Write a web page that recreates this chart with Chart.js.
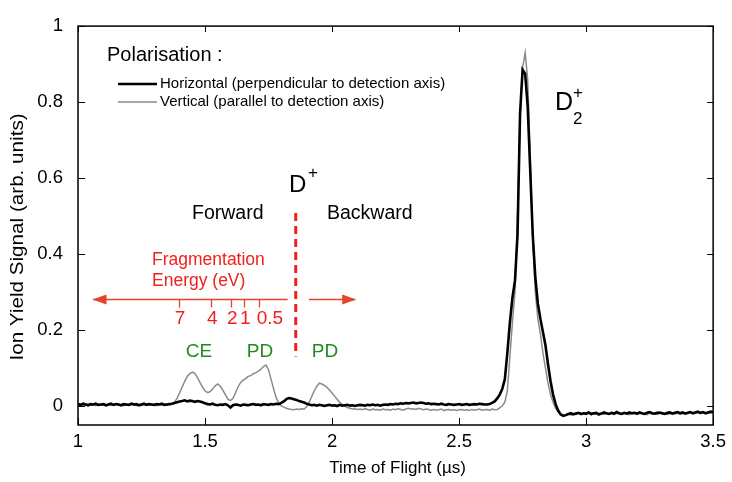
<!DOCTYPE html>
<html>
<head>
<meta charset="utf-8">
<script src="https://cdn.jsdelivr.net/npm/chart.js@4.4.0/dist/chart.umd.min.js"></script>
<style>
html, body { margin: 0; padding: 0; background: #fff; }
</style>
</head>
<body>
<canvas id="tofChart" width="732" height="482"></canvas>
<script>
// Time of flight samples, 1.00 .. 3.50 us in 0.01 steps
const tof = [];
for (let i = 0; i <= 250; i++) tof.push(+(1 + i * 0.01).toFixed(2));

// Horizontal polarisation (one row per 0.1 us)
const horizontal = [
  0.005,0.003,0.006,0.004,0.002,0.005,0.004,0.006,0.003,0.004,
  0.005,0.002,0.004,0.006,0.003,0.005,0.004,0.002,0.005,0.004,
  0.003,0.006,0.004,0.005,0.002,0.004,0.006,0.003,0.005,0.004,
  0.003,0.005,0.004,0.006,0.003,0.004,0.005,0.006,0.008,0.010,
  0.012,0.013,0.015,0.012,0.014,0.013,0.011,0.013,0.012,0.010,
  0.007,0.005,0.004,0.006,0.003,0.002,0.004,0.003,0.005,0.002,
  -0.004,0.002,0.004,0.003,0.001,0.004,0.003,0.002,0.004,0.005,
  0.003,0.004,0.002,0.005,0.004,0.003,0.005,0.004,0.006,0.005,
  0.008,0.012,0.018,0.021,0.020,0.018,0.016,0.013,0.011,0.009,
  0.006,0.004,0.002,0.003,0.001,0.003,0.002,0.000,0.002,0.003,
  0.001,0.002,0.000,0.003,0.001,0.002,0.003,0.001,0.002,0.000,
  0.002,0.003,0.002,0.001,0.003,0.002,0.004,0.002,0.003,0.001,
  0.003,0.004,0.003,0.005,0.004,0.006,0.005,0.007,0.006,0.008,
  0.007,0.008,0.009,0.007,0.008,0.009,0.008,0.006,0.007,0.005,
  0.006,0.005,0.004,0.006,0.004,0.003,0.005,0.004,0.003,0.004,
  0.005,0.003,0.004,0.005,0.003,0.004,0.005,0.004,0.006,0.005,
  0.004,0.004,0.005,0.008,0.012,0.020,0.030,0.045,0.070,0.140,
  0.220,0.285,0.330,0.450,0.770,0.885,0.875,0.790,0.620,0.450,
  0.340,0.270,0.230,0.195,0.160,0.110,0.065,0.030,0.005,-0.012,
  -0.022,-0.026,-0.024,-0.021,-0.019,-0.022,-0.020,-0.018,-0.021,-0.019,
  -0.020,-0.017,-0.021,-0.019,-0.018,-0.022,-0.020,-0.017,-0.019,-0.021,
  -0.018,-0.020,-0.016,-0.019,-0.021,-0.018,-0.020,-0.017,-0.019,-0.018,
  -0.020,-0.017,-0.019,-0.021,-0.018,-0.016,-0.019,-0.020,-0.018,-0.017,
  -0.019,-0.021,-0.018,-0.017,-0.020,-0.018,-0.016,-0.019,-0.017,-0.020,
  -0.018,-0.016,-0.019,-0.017,-0.015,-0.018,-0.016,-0.019,-0.017,-0.015,
  -0.016
];

// Vertical polarisation
const vertical = [
  0.002,0.004,0.001,0.003,0.005,0.002,0.003,0.001,0.004,0.002,
  0.003,0.001,0.004,0.002,0.003,0.005,0.002,0.004,0.001,0.003,
  0.002,0.004,0.003,0.001,0.004,0.002,0.003,0.005,0.002,0.004,
  0.003,0.001,0.004,0.002,0.005,0.003,0.004,0.006,0.010,0.020,
  0.035,0.050,0.065,0.078,0.085,0.089,0.086,0.075,0.062,0.050,
  0.040,0.035,0.038,0.045,0.053,0.058,0.052,0.042,0.030,0.018,
  0.014,0.020,0.035,0.050,0.062,0.068,0.072,0.078,0.080,0.085,
  0.088,0.092,0.097,0.104,0.108,0.095,0.070,0.045,0.022,0.008,
  0.000,-0.003,-0.006,-0.008,-0.009,-0.010,-0.008,-0.009,-0.007,-0.008,
  -0.002,0.010,0.025,0.040,0.052,0.060,0.058,0.054,0.049,0.042,
  0.034,0.026,0.018,0.010,0.004,0.000,-0.004,-0.006,-0.008,-0.007,
  -0.009,-0.008,-0.010,-0.007,-0.009,-0.011,-0.008,-0.010,-0.009,-0.011,
  -0.008,-0.010,-0.009,-0.011,-0.008,-0.010,-0.007,-0.009,-0.011,-0.008,
  -0.006,-0.008,-0.007,-0.009,-0.006,-0.008,-0.010,-0.008,-0.009,-0.011,
  -0.009,-0.011,-0.010,-0.008,-0.012,-0.010,-0.009,-0.011,-0.010,-0.012,
  -0.010,-0.009,-0.011,-0.010,-0.012,-0.009,-0.011,-0.010,-0.008,-0.011,
  -0.010,-0.009,-0.011,-0.008,-0.010,-0.009,-0.005,0.000,0.010,0.040,
  0.130,0.220,0.300,0.500,0.760,0.890,0.930,0.860,0.660,0.440,
  0.300,0.230,0.190,0.140,0.100,0.060,0.030,0.010,-0.006,-0.016,
  -0.024,-0.026,-0.023,-0.021,-0.024,-0.020,-0.022,-0.019,-0.023,-0.021,
  -0.022,-0.019,-0.023,-0.020,-0.021,-0.024,-0.020,-0.022,-0.019,-0.021,
  -0.020,-0.023,-0.019,-0.021,-0.022,-0.019,-0.021,-0.023,-0.020,-0.019,
  -0.022,-0.020,-0.018,-0.021,-0.023,-0.019,-0.021,-0.020,-0.022,-0.019,
  -0.021,-0.019,-0.022,-0.020,-0.018,-0.021,-0.019,-0.022,-0.020,-0.018,
  -0.020,-0.018,-0.021,-0.019,-0.017,-0.020,-0.018,-0.021,-0.019,-0.017,
  -0.018
];

const xTicks = [1, 1.5, 2, 2.5, 3, 3.5];
const yTicks = [0, 0.2, 0.4, 0.6, 0.8, 1];

// Fragmentation energy scale drawn on the arrow (eV and their flight times)
const energyLabels = ['7', '4', '2', '1', '0.5'];
const energyTof = [1.398, 1.525, 1.603, 1.655, 1.711];

const FONT = "'Liberation Sans', Arial, sans-serif";
const RED = '#f0201c';
const ARROW = '#e4442a';
const GREEN = '#1f8c1f';

const toPoints = ys => ys.map((y, i) => ({ x: tof[i], y: y }));

const framePlugin = {
  id: 'frame',
  afterDraw(chart) {
    const { ctx, chartArea: a, scales: { x, y } } = chart;
    const px = v => x.getPixelForValue(v);
    const py = v => y.getPixelForValue(v);
    ctx.save();

    // box and inward ticks on all sides
    ctx.strokeStyle = '#000';
    ctx.lineWidth = 1.5;
    ctx.strokeRect(a.left, a.top, a.right - a.left, a.bottom - a.top);
    ctx.lineWidth = 1;
    ctx.beginPath();
    xTicks.forEach(v => {
      const p = Math.round(px(v)) + 0.5;
      ctx.moveTo(p, a.bottom); ctx.lineTo(p, a.bottom - 7);
      ctx.moveTo(p, a.top); ctx.lineTo(p, a.top + 6);
    });
    yTicks.forEach(v => {
      const p = Math.round(py(v)) + 0.5;
      ctx.moveTo(a.left, p); ctx.lineTo(a.left + 7, p);
      ctx.moveTo(a.right, p); ctx.lineTo(a.right - 6, p);
    });
    ctx.stroke();

    // axis titles
    ctx.fillStyle = '#000';
    ctx.font = '17px ' + FONT;
    ctx.textAlign = 'center';
    ctx.textBaseline = 'middle';
    ctx.fillText('Time of Flight (\u00b5s)', (a.left + a.right) / 2 + 2, 468);
    ctx.save();
    ctx.translate(18, 237);
    ctx.rotate(-Math.PI / 2);
    ctx.scale(1.18, 1);
    ctx.font = '17.5px ' + FONT;
    ctx.fillText('Ion Yield Signal (arb. units)', 0, 0);
    ctx.restore();

    // legend
    ctx.textAlign = 'left';
    ctx.font = '20px ' + FONT;
    ctx.fillText('Polarisation :', 107, 55);
    ctx.font = '15px ' + FONT;
    chart.data.datasets.forEach((ds, i) => {
      const ly = 84 + i * 18;
      ctx.strokeStyle = ds.borderColor;
      ctx.lineWidth = ds.borderWidth;
      ctx.beginPath();
      ctx.moveTo(118, ly); ctx.lineTo(157, ly);
      ctx.stroke();
      ctx.fillText(ds.label, 160, ly);
    });

    // D+ marker and direction labels
    ctx.font = '24px ' + FONT;
    ctx.textBaseline = 'alphabetic';
    ctx.fillText('D', 289, 192);
    ctx.font = '17px ' + FONT;
    ctx.fillText('+', 308, 178);
    ctx.font = '19.5px ' + FONT;
    ctx.fillText('Forward', 192, 219);
    ctx.fillText('Backward', 327, 219);

    // D2+ peak label
    ctx.font = '25px ' + FONT;
    ctx.fillText('D', 555, 110);
    ctx.font = '17px ' + FONT;
    ctx.fillText('2', 573, 124);
    ctx.fillText('+', 573, 98);

    // dashed line at the zero-energy D+ flight time
    ctx.strokeStyle = RED;
    ctx.lineWidth = 3;
    ctx.setLineDash([8, 5]);
    ctx.beginPath();
    ctx.moveTo(px(1.857), py(0.508));
    ctx.lineTo(px(1.857), py(0.13));
    ctx.stroke();
    ctx.setLineDash([]);

    // energy arrows
    const ay = Math.round(py(0.281)) + 0.5;
    ctx.strokeStyle = ARROW;
    ctx.fillStyle = ARROW;
    ctx.lineWidth = 1.3;
    ctx.beginPath();
    ctx.moveTo(px(1.06), ay); ctx.lineTo(px(1.825), ay);
    ctx.moveTo(px(1.909), ay); ctx.lineTo(px(2.09), ay);
    energyTof.forEach(t => {
      const p = Math.round(px(t)) + 0.5;
      ctx.moveTo(p, ay); ctx.lineTo(p, ay + 8);
    });
    ctx.stroke();
    const head = (tip, dir) => {
      ctx.beginPath();
      ctx.moveTo(tip, ay);
      ctx.lineTo(tip + dir * 14, ay - 5);
      ctx.lineTo(tip + dir * 14, ay + 5);
      ctx.closePath();
      ctx.fill();
    };
    head(px(1.057), 1);
    head(px(2.095), -1);

    ctx.fillStyle = RED;
    ctx.font = '17.5px ' + FONT;
    ctx.fillText('Fragmentation', 152, 265);
    ctx.fillText('Energy (eV)', 152, 286);
    ctx.font = '19px ' + FONT;
    energyLabels.forEach((lab, i) => {
      const p = px(energyTof[i]);
      if (lab === '0.5') {
        ctx.textAlign = 'left';
        ctx.fillText(lab, p - 2, 324);
      } else {
        ctx.textAlign = 'center';
        ctx.fillText(lab, p + 1, 324);
      }
    });

    // process labels
    ctx.fillStyle = GREEN;
    ctx.textAlign = 'center';
    ctx.fillText('CE', 199, 357);
    ctx.fillText('PD', 260, 357);
    ctx.fillText('PD', 325, 357);

    ctx.restore();
  }
};

new Chart(document.getElementById('tofChart').getContext('2d'), {
  type: 'line',
  data: {
    datasets: [
      {
        label: 'Horizontal (perpendicular to detection axis)',
        data: toPoints(horizontal),
        borderColor: '#000000',
        borderWidth: 2.6,
        pointRadius: 0,
        tension: 0
      },
      {
        label: 'Vertical (parallel to detection axis)',
        data: toPoints(vertical),
        borderColor: '#8a8a8a',
        borderWidth: 1.5,
        pointRadius: 0,
        tension: 0
      }
    ]
  },
  options: {
    responsive: false,
    animation: false,
    devicePixelRatio: 1,
    layout: { padding: { top: 17, right: 14, left: 0, bottom: 0 } },
    plugins: { legend: { display: false }, tooltip: { enabled: false } },
    scales: {
      x: {
        type: 'linear', min: 1, max: 3.5,
        afterBuildTicks: s => { s.ticks = xTicks.map(v => ({ value: v })); },
        afterFit: s => { s.height = 57; },
        grid: { display: false, drawTicks: false },
        border: { display: false },
        ticks: { color: '#000', padding: 6, maxRotation: 0, font: { family: FONT, size: 18.5 },
                 callback: v => String(v) }
      },
      y: {
        type: 'linear', min: -0.05, max: 1,
        afterBuildTicks: s => { s.ticks = yTicks.map(v => ({ value: v })); },
        afterFit: s => { s.width = 78; },
        grid: { display: false, drawTicks: false },
        border: { display: false },
        ticks: { color: '#000', padding: 15, font: { family: FONT, size: 18.5 },
                 callback: v => String(+v.toFixed(1)) }
      }
    }
  },
  plugins: [framePlugin]
});
</script>
</body>
</html>
